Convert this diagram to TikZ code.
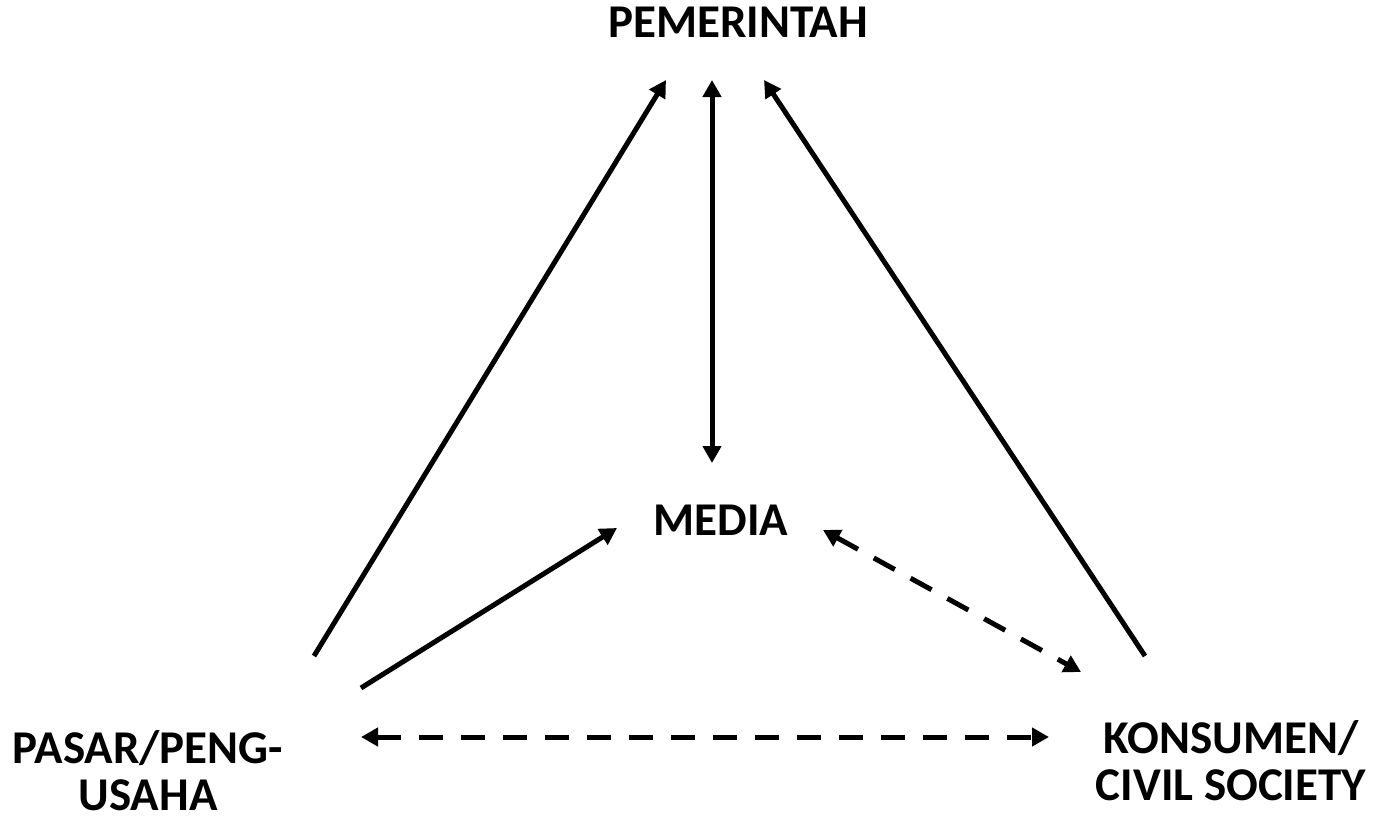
\documentclass[tikz,border=0pt]{standalone}
\usepackage{fontspec}
\setmainfont{Carlito}
\usetikzlibrary{arrows.meta}
\begin{document}
\begin{tikzpicture}[x=1pt,y=-1pt,
  lbl/.style={font=\fontsize{47}{47}\selectfont\bfseries, align=center, inner sep=0pt},
  link/.style={line width=5pt, -{Triangle[length=17pt,width=18pt]}},
  both/.style={line width=5pt, {Triangle[length=17pt,width=18pt]}-{Triangle[length=17pt,width=18pt]}},
  dashlink/.style={both, dash pattern=on 24pt off 18pt}]
\useasboundingbox (0,0) rectangle (1374,822);
% actors
\node[lbl] (pem) at (738,22) {PEMERINTAH};
\node[lbl] (med) at (721,520) {MEDIA};
\node[lbl] (pas) at (148,771) {PASAR/PENG-\\USAHA};
\node[lbl] (kon) at (1231,761) {KONSUMEN/\\CIVIL SOCIETY};
% arrow end points
\coordinate (pasTop) at (314,656);
\coordinate (pasMid) at (361,688);
\coordinate (pasR) at (361,737);
\coordinate (konTop) at (1145,656);
\coordinate (konMid) at (1081,672);
\coordinate (konL) at (1049,737);
\coordinate (pemL) at (666,80);
\coordinate (pemC) at (712,80);
\coordinate (pemR) at (764,80);
\coordinate (medT) at (712,463);
\coordinate (medL) at (617,528);
\coordinate (medR) at (823,530);
% connectors
\draw[link] (pasTop) -- (pemL);
\draw[link] (konTop) -- (pemR);
\draw[both] (pemC) -- (medT);
\draw[link] (pasMid) -- (medL);
\draw[dashlink] (medR) -- (konMid);
\draw[dashlink] (pasR) -- (konL);
\end{tikzpicture}
\end{document}
